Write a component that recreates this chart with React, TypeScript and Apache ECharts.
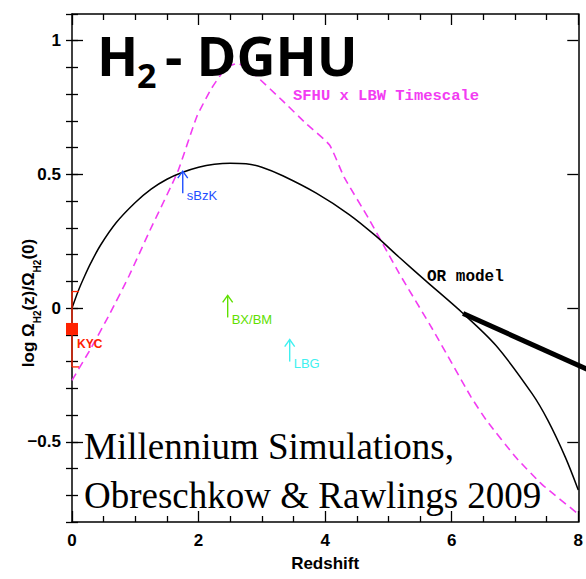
import React, { useEffect, useRef } from 'react';
import * as echarts from 'echarts';

// OR model curve (solid black)
const orZ = [0, 0.1, 0.2, 0.3, 0.45, 0.7, 1.0, 1.25, 1.5, 1.75, 2.0, 2.25, 2.5, 2.75, 3.0, 3.33, 3.86, 4.38, 4.8, 5.17, 5.6, 6.18, 6.7, 7.27, 7.52, 7.8, 8.0];
const orVal = [0, 0.065, 0.12, 0.17, 0.235, 0.32, 0.395, 0.445, 0.482, 0.508, 0.527, 0.538, 0.542, 0.54, 0.527, 0.495, 0.43, 0.35, 0.27, 0.19, 0.1, -0.02, -0.14, -0.32, -0.42, -0.56, -0.68];

// SFHU x LBW Timescale (dashed magenta)
const sfhuZ = [0, 0.3, 0.6, 0.9, 1.23, 1.67, 1.97, 2.2, 2.44, 2.62, 2.9, 3.33, 3.7, 4.07, 4.3, 4.7, 5.17, 5.7, 6.3, 6.55, 7.02, 7.43, 8.0];
const sfhuVal = [-0.27, -0.15, -0.02, 0.12, 0.29, 0.51, 0.715, 0.82, 0.9, 0.915, 0.87, 0.775, 0.69, 0.61, 0.49, 0.33, 0.13, -0.08, -0.33, -0.42, -0.56, -0.66, -0.77];

// KYC point with error bar
const kycZ = [0];
const kycVal = [-0.078];
const kycHigh = [0.062];
const kycLow = [-0.22];

// Lower-limit arrows
const arrowNames = ['sBzK', 'BX/BM', 'LBG'];
const arrowZ = [1.75, 2.46, 3.44];
const arrowVal = [0.43, -0.035, -0.2];
const arrowColors = ['#1f4fff', '#5fe000', '#40f0f0'];

// Pointer to OR model
const pointerZ = [6.18];
const pointerVal = [-0.02];

// Axis ticks
const xTicks = [0, 2, 4, 6, 8];
const yMajor = [-0.5, 0, 0.5, 1];

const SANS = 'Liberation Sans';
const MAGENTA = '#f23cf2';

export default function App() {
  const ref = useRef<HTMLDivElement>(null);
  useEffect(() => {
    if (!ref.current) return;
    const chart = echarts.init(ref.current, null, { renderer: 'svg' });
    const tickStyle = { color: '#000', width: 1.3 };
    const axisLineStyle = { color: '#000', width: 1.5 };
    const labelStyle = { color: '#000', fontSize: 17, fontFamily: SANS, fontWeight: 'bold' as const };
    const fmtY = (v: number) => (v < 0 ? '\u2212' + String(Math.abs(v)) : String(v));
    const xAxisBase = (pos: 'top' | 'bottom', labels: boolean) => ({
      type: 'value',
      min: xTicks[0],
      max: xTicks[xTicks.length - 1],
      interval: 2,
      position: pos,
      axisLine: { show: true, onZero: false, lineStyle: axisLineStyle },
      axisTick: { show: true, inside: true, length: 11, lineStyle: tickStyle },
      minorTick: { show: true, splitNumber: 4, length: 6, lineStyle: tickStyle },
      splitLine: { show: false },
      minorSplitLine: { show: false },
      axisLabel: { show: labels, margin: 10, ...labelStyle },
    });
    const yMajorAxis = (pos: 'left' | 'right', labels: boolean) => ({
      type: 'value',
      min: -0.8,
      max: 1.1,
      position: pos,
      axisLine: { show: true, onZero: false, lineStyle: axisLineStyle },
      axisTick: { show: true, inside: true, length: 11, lineStyle: tickStyle, customValues: yMajor },
      axisLabel: { show: labels, margin: 11, customValues: yMajor, formatter: fmtY, ...labelStyle },
      splitLine: { show: false },
    });
    const yMinorAxis = (pos: 'left' | 'right') => ({
      type: 'value',
      min: -0.8,
      max: 1.1,
      interval: 0.1,
      position: pos,
      axisLine: { show: false },
      axisTick: { show: true, inside: true, length: 6, lineStyle: tickStyle },
      axisLabel: { show: false },
      splitLine: { show: false },
    });

    chart.setOption({
      animation: false,
      backgroundColor: '#fff',
      grid: { left: 72, right: 7, top: 14, bottom: 57 },
      xAxis: [
        {
          ...xAxisBase('bottom', true),
          name: 'Redshift',
          nameLocation: 'middle',
          nameGap: 33,
          nameTextStyle: { color: '#000', fontSize: 17, fontFamily: SANS, fontWeight: 'bold' },
        },
        xAxisBase('top', false),
      ],
      yAxis: [yMajorAxis('left', true), yMinorAxis('left'), yMajorAxis('right', false), yMinorAxis('right')],
      series: [
        {
          type: 'line',
          name: 'OR model',
          data: orZ.map((z, i) => [z, orVal[i]]),
          showSymbol: false,
          smooth: 0.3,
          lineStyle: { color: '#000', width: 1.5 },
          z: 3,
        },
        {
          type: 'line',
          name: 'SFHU x LBW Timescale',
          data: sfhuZ.map((z, i) => [z, sfhuVal[i]]),
          showSymbol: false,
          smooth: 0.15,
          lineStyle: { color: MAGENTA, width: 1.6, type: [8, 5] },
          z: 2,
        },
        {
          type: 'custom',
          name: 'KYC',
          clip: false,
          data: kycZ.map((z, i) => [z, kycVal[i], kycHigh[i], kycLow[i]]),
          renderItem: (params: any, api: any) => {
            const c = api.coord([api.value(0), api.value(1)]);
            const hi = api.coord([api.value(0), api.value(2)]);
            const lo = api.coord([api.value(0), api.value(3)]);
            const red = '#ff2200';
            return {
              type: 'group',
              children: [
                { type: 'line', shape: { x1: hi[0], y1: hi[1], x2: lo[0], y2: lo[1] }, style: { stroke: red, lineWidth: 1.3 } },
                { type: 'line', shape: { x1: hi[0], y1: hi[1], x2: hi[0] + 7, y2: hi[1] }, style: { stroke: red, lineWidth: 1.3 } },
                { type: 'line', shape: { x1: lo[0], y1: lo[1], x2: lo[0] + 7, y2: lo[1] }, style: { stroke: red, lineWidth: 1.3 } },
                { type: 'rect', shape: { x: c[0] - 6, y: c[1] - 6, width: 12, height: 12 }, style: { fill: red } },
                {
                  type: 'text',
                  x: c[0] + 5,
                  y: c[1] + 15,
                  style: { text: 'KYC', fill: red, font: `bold 12px "${SANS}"`, align: 'left', verticalAlign: 'middle' },
                },
              ],
            };
          },
          z: 5,
        },
        {
          type: 'custom',
          name: 'limits',
          clip: false,
          data: arrowZ.map((z, i) => [z, arrowVal[i]]),
          renderItem: (params: any, api: any) => {
            const p = api.coord([api.value(0), api.value(1)]);
            const col = arrowColors[params.dataIndex];
            return {
              type: 'group',
              children: [
                { type: 'line', shape: { x1: p[0], y1: p[1], x2: p[0], y2: p[1] - 22 }, style: { stroke: col, lineWidth: 1.4 } },
                {
                  type: 'polyline',
                  shape: { points: [[p[0] - 5, p[1] - 15], [p[0], p[1] - 22], [p[0] + 5, p[1] - 15]] },
                  style: { stroke: col, fill: 'none', lineWidth: 1.4 },
                },
                {
                  type: 'text',
                  x: p[0] + 4,
                  y: p[1] + 2,
                  style: { text: arrowNames[params.dataIndex], fill: col, font: `13px "${SANS}"`, align: 'left', verticalAlign: 'middle' },
                },
              ],
            };
          },
          z: 5,
        },
        {
          type: 'custom',
          name: 'pointer',
          clip: false,
          data: pointerZ.map((z, i) => [z, pointerVal[i]]),
          renderItem: (params: any, api: any) => {
            const p = api.coord([api.value(0), api.value(1)]);
            return {
              type: 'line',
              shape: { x1: p[0], y1: p[1], x2: p[0] + 140, y2: p[1] + 63 },
              style: { stroke: '#000', lineWidth: 5, lineCap: 'butt' },
            };
          },
          z: 6,
        },
      ],
      graphic: [
        {
          type: 'text',
          left: 97,
          top: 28,
          style: { text: 'H', fill: '#000', font: 'bold 54px "Open Sans"' },
          z: 10,
        },
        {
          type: 'text',
          left: 137,
          top: 58,
          style: { text: '2', fill: '#000', font: 'bold 34px "Open Sans"' },
          z: 10,
        },
        {
          type: 'text',
          left: 165,
          top: 28,
          style: { text: '- DGHU', fill: '#000', font: 'bold 54px "Open Sans"' },
          z: 10,
        },
        {
          type: 'text',
          left: 293,
          top: 88,
          style: { text: 'SFHU x LBW Timescale', fill: MAGENTA, font: 'bold 15.5px "Liberation Mono"' },
          z: 10,
        },
        {
          type: 'text',
          left: 427,
          top: 269,
          style: { text: 'OR model', fill: '#000', font: 'bold 16px "Liberation Mono"' },
          z: 10,
        },
        {
          type: 'text',
          left: 84,
          top: 428,
          style: { text: 'Millennium Simulations,', fill: '#000', font: '37px "Liberation Serif"' },
          z: 10,
        },
        {
          type: 'text',
          left: 84,
          top: 477,
          style: { text: 'Obreschkow & Rawlings 2009', fill: '#000', font: '37px "Liberation Serif"' },
          z: 10,
        },
        {
          type: 'text',
          x: 31,
          y: 303,
          rotation: Math.PI / 2,
          style: {
            text: '{n|log Ω}{s|H2}{n|(z)/Ω}{s|H2}{n|(0)}',
            align: 'center',
            verticalAlign: 'middle',
            rich: {
              n: { fontSize: 17, fontFamily: SANS, fontWeight: 'bold', fill: '#000', lineHeight: 22, verticalAlign: 'top' },
              s: { fontSize: 10, fontFamily: SANS, fontWeight: 'bold', fill: '#000', lineHeight: 12, verticalAlign: 'bottom' },
            },
          },
          z: 10,
        },
      ],
    });
    return () => chart.dispose();
  }, []);
  return <div ref={ref} style={{ position: 'fixed', left: 0, top: 0, width: 586, height: 579 }} />;
}
